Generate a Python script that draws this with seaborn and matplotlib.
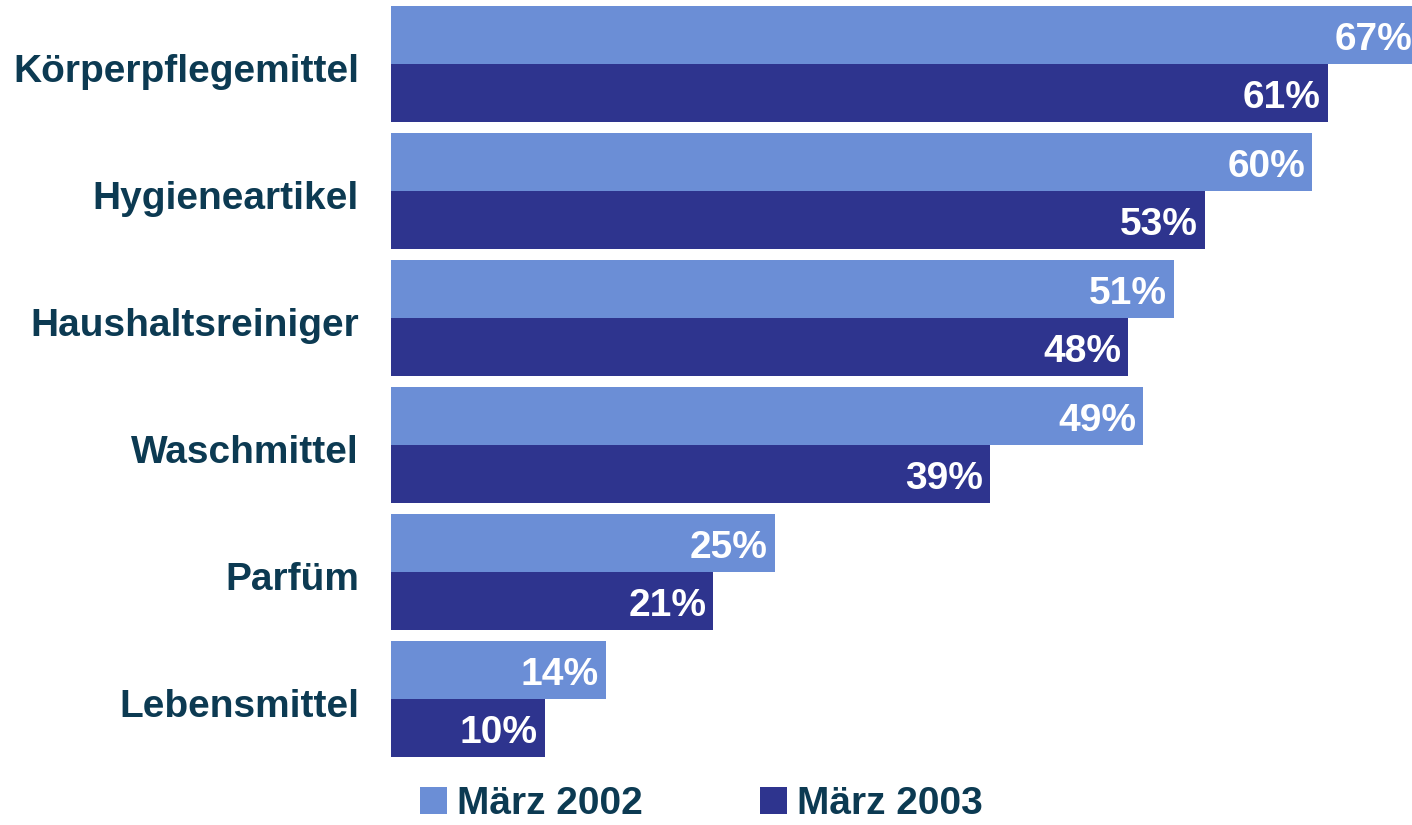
import matplotlib
matplotlib.use("Agg")
import matplotlib.pyplot as plt
import matplotlib.transforms as mtransforms
import seaborn as sns
import pandas as pd
from matplotlib.patches import Patch

categories = ["Körperpflegemittel", "Hygieneartikel", "Haushaltsreiniger",
              "Waschmittel", "Parfüm", "Lebensmittel"]
series_names = ["März 2002", "März 2003"]
values_2002 = [67, 60, 51, 49, 25, 14]
values_2003 = [61, 53, 48, 39, 21, 10]
colors = ["#6b8ed6", "#2e348e"]
text_color = "#0c3a52"

sns.set_theme(style="white")
plt.rcParams['font.family'] = ['Liberation Sans', 'DejaVu Sans']
plt.rcParams['font.weight'] = 'bold'

df = pd.DataFrame({
    "Kategorie": categories * 2,
    "Wert": values_2002 + values_2003,
    "Zeitraum": [series_names[0]] * len(categories) + [series_names[1]] * len(categories),
})

fig = plt.figure(figsize=(14.12, 8.25), dpi=100)
ax = fig.add_axes([391 / 1412, 62 / 825, 1 - 391 / 1412, 763 / 825])

sns.barplot(data=df, x="Wert", y="Kategorie", hue="Zeitraum", order=categories,
            hue_order=series_names, palette=colors, orient="h", width=0.913,
            gap=0, saturation=1, errorbar=None, legend=False, ax=ax,
            linewidth=0, edgecolor="none")

ax.set_xlim(0, 66.5)
ax.set_ylim(5.504, -0.504)
for s in ax.spines.values():
    s.set_visible(False)
ax.set_xticks([])
ax.set_xlabel("")
ax.set_ylabel("")
ax.tick_params(axis="y", length=0, pad=23)
shift = mtransforms.ScaledTranslation(0, -4 / 100, fig.dpi_scale_trans)
for lbl in ax.get_yticklabels():
    lbl.set_fontsize(28)
    lbl.set_fontweight("bold")
    lbl.set_color(text_color)
    lbl.set_transform(lbl.get_transform() + shift)

for cont in ax.containers:
    for bar in cont:
        w = bar.get_width()
        yc = bar.get_y() + bar.get_height() / 2
        ax.annotate(f"{w:.0f}%", xy=(w, yc), xytext=(-7, -5), textcoords="offset pixels",
                    ha="right", va="center", color="white", fontsize=28,
                    fontweight="bold", annotation_clip=False)

handles = [Patch(facecolor=c, edgecolor="none") for c in colors]
fig.legend(handles, series_names, loc="center", bbox_to_anchor=(0.4968, 0.0255),
           ncol=2, frameon=False, fontsize=28, handlelength=0.7, handleheight=0.7,
           handletextpad=0.26, columnspacing=3.0, labelcolor=text_color,
           borderpad=0, borderaxespad=0)

fig.savefig("out.png", dpi=100)
